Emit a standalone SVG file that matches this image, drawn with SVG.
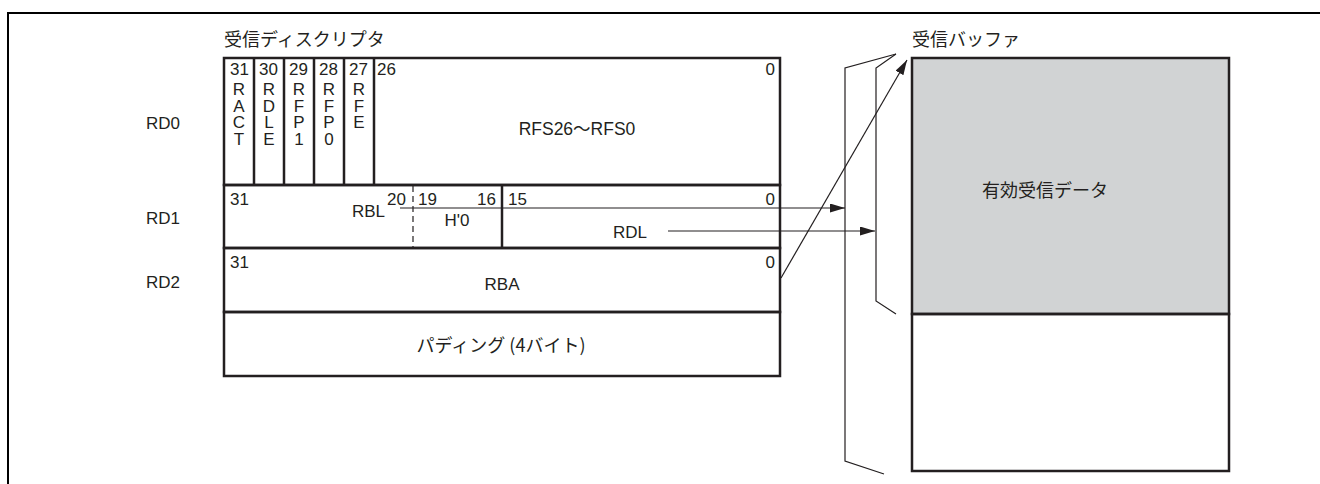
<svg xmlns="http://www.w3.org/2000/svg" width="1320" height="484" viewBox="0 0 1320 484">
<style>
.t{font-family:"Liberation Sans",Arial,sans-serif;font-size:17px;fill:#231f20}
.j{font-family:"Noto Sans CJK JP","Liberation Sans",sans-serif;font-size:18px;fill:#231f20}
.box{fill:none;stroke:#231f20;stroke-width:2.5}
.thin{fill:none;stroke:#231f20;stroke-width:1.2}
.m{text-anchor:middle}
.e{text-anchor:end}
</style>
<defs>
<marker id="ah" markerUnits="userSpaceOnUse" markerWidth="16" markerHeight="10" refX="15" refY="4.5" orient="auto">
<path d="M0,0 L15,4.5 L0,9 z" fill="#231f20"/>
</marker>
</defs>
<rect width="1320" height="484" fill="#fff"/>
<path d="M8,484 V13 H1320" fill="none" stroke="#000" stroke-width="2"/>

<text class="j" x="224" y="46">受信ディスクリプタ</text>
<text class="j" x="912" y="46">受信バッファ</text>

<g id="labels">
<text class="t" x="146" y="129">RD0</text>
<text class="t" x="146" y="224">RD1</text>
<text class="t" x="146" y="288">RD2</text>
</g>

<g id="rd0">
<rect class="box" x="224" y="58" width="556" height="127"/>
<path class="box" d="M254,58V185M284,58V185M314,58V185M344,58V185M374,58V185"/>
<text class="t" x="230" y="75">31</text>
<text class="t" x="259" y="75">30</text>
<text class="t" x="289" y="75">29</text>
<text class="t" x="319" y="75">28</text>
<text class="t" x="349" y="75">27</text>
<text class="t" x="377" y="75">26</text>
<text class="t e" x="775" y="75">0</text>
<g class="t m">
<text x="239" y="95">R</text><text x="239" y="111.5">A</text><text x="239" y="128">C</text><text x="239" y="145">T</text>
<text x="269" y="95">R</text><text x="269" y="111.5">D</text><text x="269" y="128">L</text><text x="269" y="145">E</text>
<text x="299" y="95">R</text><text x="299" y="111.5">F</text><text x="299" y="128">P</text><text x="299" y="145">1</text>
<text x="329" y="95">R</text><text x="329" y="111.5">F</text><text x="329" y="128">P</text><text x="329" y="145">0</text>
<text x="359" y="95">R</text><text x="359" y="111.5">F</text><text x="359" y="128">E</text>
</g>
<text class="t m" x="577" y="135" style="font-size:17.5px">RFS26<tspan style="font-family:'Noto Sans CJK JP',sans-serif">～</tspan>RFS0</text>
</g>

<g id="rd1">
<rect class="box" x="224" y="185" width="556" height="63"/>
<path class="box" d="M502,185V248"/>
<path class="thin" d="M413,186V248" stroke-dasharray="6,4"/>
<text class="t" x="230" y="205">31</text>
<text class="t" x="387" y="205">20</text>
<text class="t" x="352" y="217">RBL</text>
<text class="t" x="418" y="205">19</text>
<text class="t e" x="496" y="205">16</text>
<text class="t m" x="457" y="226">H'0</text>
<text class="t" x="508" y="205">15</text>
<text class="t e" x="775" y="205">0</text>
<text class="t m" x="630" y="238">RDL</text>
</g>

<g id="rd2">
<rect class="box" x="224" y="248" width="556" height="64"/>
<text class="t" x="230" y="268">31</text>
<text class="t e" x="775" y="268">0</text>
<text class="t m" x="502" y="290">RBA</text>
</g>

<g id="padding">
<rect class="box" x="224" y="312" width="556" height="64"/>
<text class="j m" x="501" y="352">パディング (4バイト)</text>
</g>

<g id="buffer">
<rect x="912" y="58" width="317" height="256" fill="#d1d3d4" stroke="#231f20" stroke-width="2.5"/>
<rect class="box" x="912" y="314" width="317" height="157"/>
<text class="j m" x="1045" y="197">有効受信データ</text>
</g>

<g id="connectors">
<path class="thin" d="M400,208H845" marker-end="url(#ah)"/>
<path class="thin" d="M668,231H875" marker-end="url(#ah)"/>
<path class="thin" d="M781,278L907,60" marker-end="url(#ah)"/>
<path class="thin" d="M896,54L845,68V461L884,474"/>
<path class="thin" d="M896,54L876,68V301L896,314"/>
</g>
</svg>
